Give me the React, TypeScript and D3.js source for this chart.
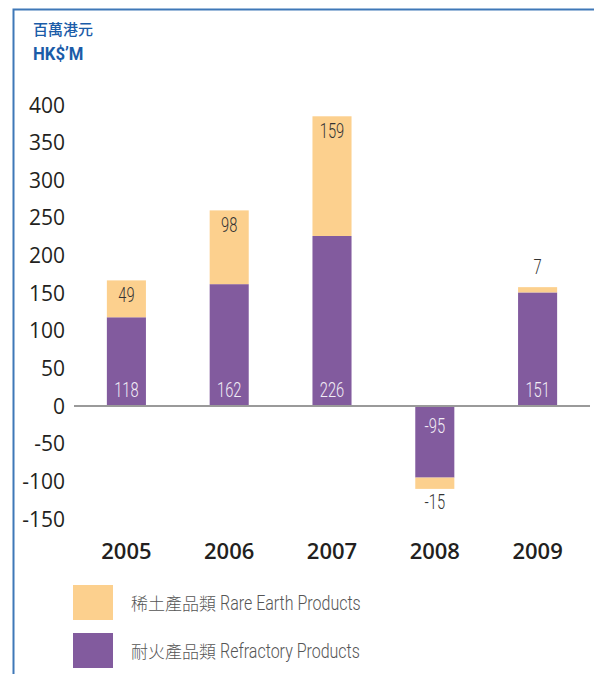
import React, { useEffect, useRef } from "react";
import * as d3 from "d3";

const years = ["2005", "2006", "2007", "2008", "2009"];
const refractory = [118, 162, 226, -95, 151];
const rareEarth = [49, 98, 159, -15, 7];
const yTicks = [400, 350, 300, 250, 200, 150, 100, 50, 0, -50, -100, -150];
const legendItems = [
  { zh: "稀土產品類", en: "Rare Earth Products", color: "#FCD08E" },
  { zh: "耐火產品類", en: "Refractory Products", color: "#825B9E" },
];

const App = () => {
  const ref = useRef<SVGSVGElement>(null);

  useEffect(() => {
    const width = 594;
    const height = 674;
    const svg = d3.select(ref.current).attr("width", width).attr("height", height);
    svg.selectAll("*").remove();

    const y = d3.scaleLinear().domain([-150, 400]).range([519, 105]);
    const x = d3.scaleBand().domain(years).range([75, 589]).paddingInner(0.62).paddingOuter(0.31);

    // border
    svg.append("path")
      .attr("d", `M13.5,674 L13.5,9.5 L594,9.5`)
      .attr("fill", "none")
      .attr("stroke", "#3F78B8")
      .attr("stroke-width", 2);

    // unit title
    svg.append("text")
      .attr("x", 33).attr("y", 35)
      .attr("font-family", "'Noto Sans CJK TC'")
      .attr("font-weight", 500)
      .attr("font-size", 15)
      .attr("fill", "#1B5CA8")
      .text("百萬港元");
    svg.append("text")
      .attr("transform", "translate(33,60) scale(0.88,1)")
      .attr("font-family", "Roboto")
      .attr("font-weight", 700)
      .attr("font-size", 19)
      .attr("fill", "#1B5CA8")
      .text("HK$’M");

    // y tick labels
    svg.append("g").selectAll("text")
      .data(yTicks)
      .join("text")
      .attr("x", 65)
      .attr("y", (d) => y(d) + 7.5)
      .attr("text-anchor", "end")
      .attr("font-family", "'Open Sans'")
      .attr("font-size", 21)
      .attr("fill", "#231F20")
      .text((d) => d);

    const rows = years.map((yr, i) => ({ yr, r: refractory[i], e: rareEarth[i] }));

    // refractory bars
    svg.append("g").selectAll("rect")
      .data(rows)
      .join("rect")
      .attr("x", (d) => x(d.yr)!)
      .attr("width", x.bandwidth())
      .attr("y", (d) => y(Math.max(0, d.r)))
      .attr("height", (d) => Math.abs(y(d.r) - y(0)))
      .attr("fill", legendItems[1].color);

    // rare earth bars stacked on top
    svg.append("g").selectAll("rect")
      .data(rows)
      .join("rect")
      .attr("x", (d) => x(d.yr)!)
      .attr("width", x.bandwidth())
      .attr("y", (d) => (d.e >= 0 ? y(d.r + d.e) : y(d.r)))
      .attr("height", (d) => Math.abs(y(d.r + d.e) - y(d.r)))
      .attr("fill", legendItems[0].color);

    // zero line
    svg.append("line")
      .attr("x1", 74).attr("x2", 590)
      .attr("y1", y(0)).attr("y2", y(0))
      .attr("stroke", "#9A9A9A")
      .attr("stroke-width", 2);

    // condensed light labels
    const lbl = (sel: any, cx: (d: any) => number, cy: (d: any) => number) =>
      sel.attr("transform", (d: any) => `translate(${cx(d)},${cy(d)}) scale(0.7,1)`)
        .attr("text-anchor", "middle")
        .attr("font-family", "Roboto")
        .attr("font-weight", 300)
        .attr("font-size", 21);

    const cxf = (d: any) => x(d.yr)! + x.bandwidth() / 2;

    svg.append("g").selectAll("text")
      .data(rows)
      .join("text")
      .call(lbl, cxf, (d: any) => (d.r >= 0 ? y(0) - 9 : y(0) + 27))
      .attr("fill", "#F2EEF6")
      .text((d) => d.r);

    svg.append("g").selectAll("text")
      .data(rows)
      .join("text")
      .call(lbl, cxf, (d: any) => {
        const top = y(d.r + d.e);
        if (d.e < 0) return top + 20;
        if (Math.abs(y(d.r + d.e) - y(d.r)) < 25) return top - 13;
        return top + 22;
      })
      .attr("fill", "#333")
      .text((d) => d.e);

    // year labels
    svg.append("g").selectAll("text")
      .data(years)
      .join("text")
      .attr("x", (d) => x(d)! + x.bandwidth() / 2)
      .attr("y", 559)
      .attr("text-anchor", "middle")
      .attr("font-family", "'Open Sans'")
      .attr("font-weight", 600)
      .attr("font-size", 22)
      .attr("fill", "#231F20")
      .text((d) => d);

    // legend
    const lg = svg.append("g").selectAll("g")
      .data(legendItems)
      .join("g")
      .attr("transform", (d, i) => `translate(73,${585 + i * 48})`);
    lg.append("rect").attr("width", 40).attr("height", 35).attr("fill", (d) => d.color);
    lg.append("text")
      .attr("x", 58).attr("y", 25)
      .attr("fill", "#555")
      .attr("font-family", "'Noto Sans CJK TC'")
      .attr("font-weight", 300)
      .attr("font-size", 17)
      .text((d) => d.zh);
    lg.append("text")
      .attr("transform", "translate(147,25) scale(0.8,1)")
      .attr("fill", "#555")
      .attr("font-family", "Roboto")
      .attr("font-weight", 300)
      .attr("font-size", 20)
      .text((d) => d.en);
  }, []);

  return (
    <div style={{ position: "absolute", left: 0, top: 0, background: "#fff" }}>
      <svg ref={ref}></svg>
    </div>
  );
};

export default App;
